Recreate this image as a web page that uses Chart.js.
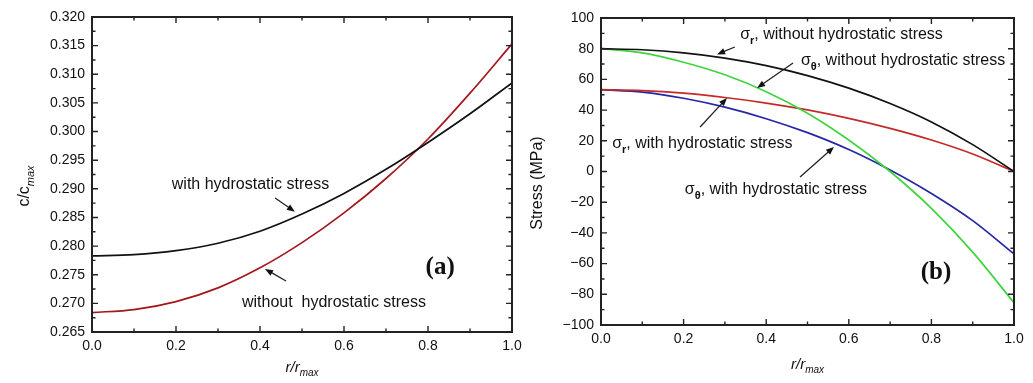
<!DOCTYPE html>
<html>
<head>
<meta charset="utf-8">
<script src="https://cdn.jsdelivr.net/npm/chart.js@4.4.1/dist/chart.umd.min.js"></script>
<style>
  html, body { margin: 0; padding: 0; background: #fff; }
  #wrap { position: relative; width: 1033px; height: 383px; overflow: hidden; }
  canvas { position: absolute; top: 0; }
  #chartA { left: 0; }
  #chartB { left: 515px; }
</style>
</head>
<body>
<div id="wrap">
  <canvas id="chartA" width="530" height="383"></canvas>
  <canvas id="chartB" width="518" height="383"></canvas>
</div>
<script>
// radial position r/rmax
const rValues = [0.0, 0.1, 0.2, 0.3, 0.4, 0.5, 0.6, 0.7, 0.8, 0.9, 1.0];

// (a) concentration c/cmax
const concWithHydro    = [0.2783, 0.2785, 0.2792, 0.2805, 0.2826, 0.2856, 0.2892, 0.2934, 0.2981, 0.3031, 0.3085];
const concWithoutHydro = [0.2684, 0.2689, 0.2703, 0.2727, 0.2762, 0.2806, 0.2858, 0.2918, 0.2987, 0.3067, 0.3153];

// (b) stress in MPa
const sigmaRWithout     = [80.0, 79.3, 77.3, 73.9, 69.0, 62.5, 54.3, 44.3, 32.3, 17.5, 0.0];
const sigmaThetaWithout = [80.0, 77.3, 71.2, 63.0, 52.0, 38.0, 20.5, 0.0, -24.0, -52.5, -85.5];
const sigmaRWith        = [53.3, 52.7, 51.0, 48.2, 44.6, 40.1, 34.6, 28.1, 20.5, 11.4, 0.0];
const sigmaThetaWith    = [53.3, 51.7, 47.7, 41.9, 34.4, 25.3, 14.3, 1.0, -14.3, -32.0, -53.7];

// tick labels
const xTickValues = [0.0, 0.2, 0.4, 0.6, 0.8, 1.0];
const concTickValues = [0.265, 0.270, 0.275, 0.280, 0.285, 0.290, 0.295, 0.300, 0.305, 0.310, 0.315, 0.320];
const stressTickValues = [-100, -80, -60, -40, -20, 0, 20, 40, 60, 80, 100];

const SANS = '"Liberation Sans", Arial, sans-serif';
const SERIF = '"Liberation Serif", "Times New Roman", serif';

function toPoints(ys) {
    return rValues.map((r, i) => ({ x: r, y: ys[i] }));
}

function lineSet(values, color) {
    return {
        data: toPoints(values),
        borderColor: color,
        borderWidth: 1.7,
        pointRadius: 0,
        showLine: true,
        fill: false,
        cubicInterpolationMode: 'monotone'
    };
}

// draws a run of text pieces, some as subscripts
function drawParts(ctx, parts, x, y, size, align) {
    const fontOf = p => {
        const s = p.sub ? Math.round(size * 0.68) : size;
        return (p.italic ? 'italic ' : '') + (p.bold ? 'bold ' : '') + s + 'px ' + SANS;
    };
    let total = 0;
    parts.forEach(p => { ctx.font = fontOf(p); total += ctx.measureText(p.t).width; });
    let cx = align === 'center' ? x - total / 2 : x;
    ctx.textAlign = 'left';
    ctx.textBaseline = 'middle';
    parts.forEach(p => {
        ctx.font = fontOf(p);
        ctx.fillText(p.t, cx, p.sub ? y + size * 0.38 : y);
        cx += ctx.measureText(p.t).width;
    });
}

function drawArrow(ctx, x1, y1, x2, y2) {
    const ang = Math.atan2(y2 - y1, x2 - x1);
    const len = 8, half = 3.2;
    ctx.beginPath();
    ctx.moveTo(x1, y1);
    ctx.lineTo(x2 - Math.cos(ang) * len * 0.8, y2 - Math.sin(ang) * len * 0.8);
    ctx.stroke();
    ctx.beginPath();
    ctx.moveTo(x2, y2);
    ctx.lineTo(x2 - Math.cos(ang) * len + Math.sin(ang) * half, y2 - Math.sin(ang) * len - Math.cos(ang) * half);
    ctx.lineTo(x2 - Math.cos(ang) * len - Math.sin(ang) * half, y2 - Math.sin(ang) * len + Math.cos(ang) * half);
    ctx.closePath();
    ctx.fill();
}

function makeOverlay(cfg) {
    return {
        id: 'overlay',
        afterDraw(chart) {
            const { ctx, chartArea: a, scales: { x, y } } = chart;
            ctx.save();
            ctx.strokeStyle = '#222';
            ctx.fillStyle = '#111';

            // frame
            ctx.lineWidth = 2;
            ctx.strokeRect(a.left, a.top, a.right - a.left, a.bottom - a.top);

            // inward ticks on all four sides, minor ticks halfway
            ctx.lineWidth = 1.4;
            const tickSet = vals => {
                const out = [];
                vals.forEach((v, i) => {
                    out.push([v, 6]);
                    if (i < vals.length - 1) out.push([(v + vals[i + 1]) / 2, 3.5]);
                });
                return out;
            };
            ctx.beginPath();
            tickSet(cfg.xTicks).forEach(([v, l]) => {
                const px = x.getPixelForValue(v);
                ctx.moveTo(px, a.bottom); ctx.lineTo(px, a.bottom - l);
                ctx.moveTo(px, a.top); ctx.lineTo(px, a.top + l);
            });
            tickSet(cfg.yTicks).forEach(([v, l]) => {
                const py = y.getPixelForValue(v);
                ctx.moveTo(a.left, py); ctx.lineTo(a.left + l, py);
                ctx.moveTo(a.right, py); ctx.lineTo(a.right - l, py);
            });
            ctx.stroke();

            // annotations
            ctx.lineWidth = 1.3;
            cfg.arrows.forEach(([x1, y1, x2, y2]) => {
                drawArrow(ctx, x.getPixelForValue(x1), y.getPixelForValue(y1),
                               x.getPixelForValue(x2), y.getPixelForValue(y2));
            });
            cfg.labels.forEach(l => {
                drawParts(ctx, l.parts, x.getPixelForValue(l.x), y.getPixelForValue(l.y), 16, 'left');
            });

            // panel tag
            ctx.font = 'bold 25px ' + SERIF;
            ctx.textAlign = 'center';
            ctx.textBaseline = 'middle';
            ctx.fillText(cfg.tag.t, x.getPixelForValue(cfg.tag.x), y.getPixelForValue(cfg.tag.y));

            // axis titles
            const midX = (a.left + a.right) / 2;
            drawParts(ctx, [{ t: 'r/r', italic: true }, { t: 'max', sub: true, italic: true }],
                midX, cfg.xTitleY, 15, 'center');
            ctx.save();
            ctx.translate(cfg.yTitleX, cfg.yTitleY);
            ctx.rotate(-Math.PI / 2);
            drawParts(ctx, cfg.yTitle, 0, 0, 16, 'center');
            ctx.restore();

            ctx.restore();
        }
    };
}

function makeChart(id, datasets, yTicks, yMin, yMax, fmt, box, overlayCfg) {
    return new Chart(document.getElementById(id), {
        type: 'scatter',
        data: { datasets },
        options: {
            responsive: false,
            animation: false,
            layout: { padding: { top: box.top, right: box.right, left: 0, bottom: 0 } },
            plugins: { legend: { display: false }, tooltip: { enabled: false } },
            scales: {
                x: {
                    type: 'linear', min: 0, max: 1,
                    grid: { display: false, drawTicks: false },
                    border: { display: false },
                    afterBuildTicks: s => { s.ticks = xTickValues.map(v => ({ value: v })); },
                    afterFit: s => { s.height = box.bottom; },
                    ticks: {
                        padding: 6, color: '#111',
                        font: { family: SANS, size: 14 },
                        callback: v => v.toFixed(1)
                    }
                },
                y: {
                    type: 'linear', min: yMin, max: yMax,
                    grid: { display: false, drawTicks: false },
                    border: { display: false },
                    afterBuildTicks: s => { s.ticks = yTicks.map(v => ({ value: v })); },
                    afterFit: s => { s.width = box.left; },
                    ticks: {
                        padding: 7, color: '#111',
                        font: { family: SANS, size: 14 },
                        callback: fmt
                    }
                }
            }
        },
        plugins: [makeOverlay(overlayCfg)]
    });
}

makeChart('chartA',
    [lineSet(concWithHydro, '#111111'), lineSet(concWithoutHydro, '#a3181c')],
    concTickValues, 0.265, 0.320, v => v.toFixed(3),
    { left: 92, right: 18, top: 17, bottom: 51 },
    {
        xTicks: xTickValues, yTicks: concTickValues,
        arrows: [[0.436, 0.2884, 0.483, 0.2860], [0.462, 0.2739, 0.412, 0.2760]],
        labels: [
            { x: 0.19, y: 0.2907, parts: [{ t: 'with hydrostatic stress' }] },
            { x: 0.357, y: 0.2701, parts: [{ t: 'without  hydrostatic stress' }] }
        ],
        tag: { t: '(a)', x: 0.829, y: 0.2763 },
        xTitleY: 368, yTitleX: 25, yTitleY: 186,
        yTitle: [{ t: 'c/c' }, { t: 'max', sub: true, italic: true }]
    });

makeChart('chartB',
    [lineSet(sigmaRWithout, '#111111'), lineSet(sigmaThetaWithout, '#3fd43f'),
     lineSet(sigmaRWith, '#c42a2a'), lineSet(sigmaThetaWith, '#2626a6')],
    stressTickValues, -100, 100, v => (v < 0 ? '\u2212' + Math.abs(v) : String(v)),
    { left: 86, right: 19, top: 18, bottom: 58 },
    {
        xTicks: xTickValues, yTicks: stressTickValues,
        arrows: [[0.324, 81.1, 0.281, 76.3], [0.465, 70.7, 0.378, 54.4],
                 [0.240, 29.0, 0.305, 47.9], [0.482, -3.6, 0.564, 16.0]],
        labels: [
            { x: 0.337, y: 88.9, parts: [{ t: '\u03c3' }, { t: 'r', sub: true, bold: true }, { t: ', without hydrostatic stress' }] },
            { x: 0.484, y: 72.0, parts: [{ t: '\u03c3' }, { t: '\u03b8', sub: true, bold: true }, { t: ', without hydrostatic stress' }] },
            { x: 0.027, y: 17.9, parts: [{ t: '\u03c3' }, { t: 'r', sub: true, bold: true }, { t: ', with hydrostatic stress' }] },
            { x: 0.203, y: -12.1, parts: [{ t: '\u03c3' }, { t: '\u03b8', sub: true, bold: true }, { t: ', with hydrostatic stress' }] }
        ],
        tag: { t: '(b)', x: 0.811, y: -66.1 },
        xTitleY: 365, yTitleX: 23, yTitleY: 183,
        yTitle: [{ t: 'Stress (MPa)' }]
    });
</script>
</body>
</html>
